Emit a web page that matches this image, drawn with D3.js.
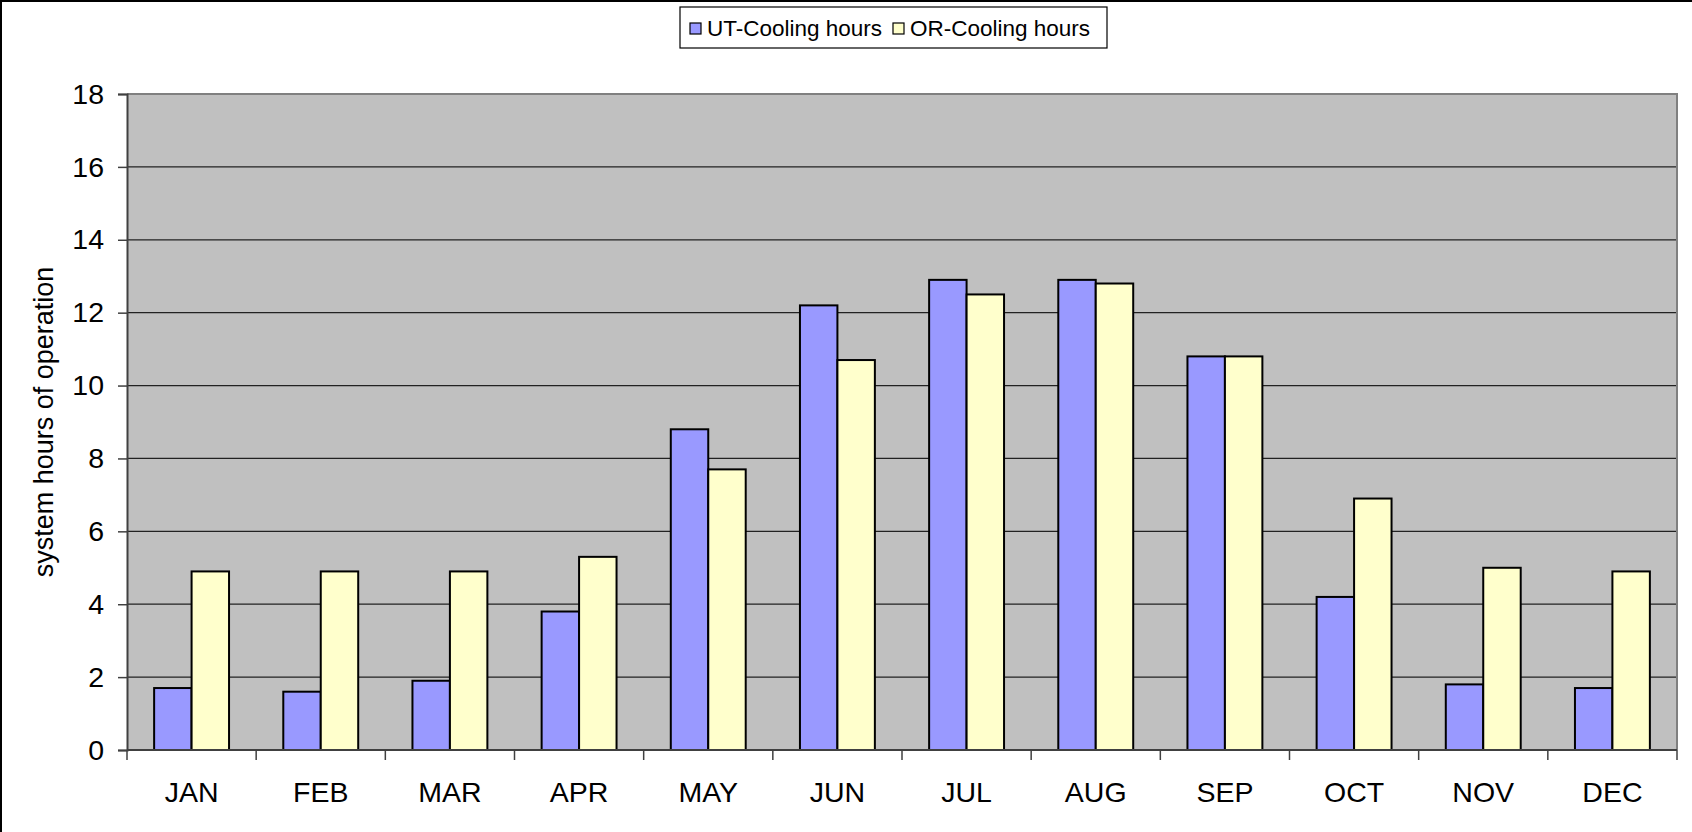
<!DOCTYPE html>
<html>
<head>
<meta charset="utf-8">
<script src="https://cdn.jsdelivr.net/npm/d3@7"></script>
<style>
  html, body { margin: 0; padding: 0; background: #fff; }
  svg { display: block; font-family: "Liberation Sans", Arial, sans-serif; }
</style>
</head>
<body>
<svg id="chart" width="1692" height="832"></svg>
<script>
const months = ["JAN","FEB","MAR","APR","MAY","JUN","JUL","AUG","SEP","OCT","NOV","DEC"];
const seriesNames = ["UT-Cooling hours", "OR-Cooling hours"];
const utCooling = [1.7, 1.6, 1.9, 3.8, 8.8, 12.2, 12.9, 12.9, 10.8, 4.2, 1.8, 1.7];
const orCooling = [4.9, 4.9, 4.9, 5.3, 7.7, 10.7, 12.5, 12.8, 10.8, 6.9, 5.0, 4.9];
const yTicks = [0, 2, 4, 6, 8, 10, 12, 14, 16, 18];
const seriesColors = ["#9999FF", "#FFFFCC"];
const yTitle = "system hours of operation";

const svg = d3.select("#chart");
const W = 1692, H = 832;
const plot = { left: 127, right: 1677, top: 94, bottom: 750 };

// outer border (right/bottom run off-canvas as in the reference)
svg.append("rect").attr("x", 1).attr("y", 1).attr("width", W + 10).attr("height", H + 10)
  .attr("fill", "#fff").attr("stroke", "#000").attr("stroke-width", 2);

const x0 = d3.scaleBand().domain(months).range([plot.left, plot.right])
  .paddingInner(0.42).paddingOuter(0.21);
const x1 = d3.scaleBand().domain(seriesNames).range([0, x0.bandwidth()]);
const xCat = d3.scaleBand().domain(months).range([plot.left, plot.right]);
const y = d3.scaleLinear().domain([0, 18]).range([plot.bottom, plot.top]);

// plot background
svg.append("rect").attr("x", plot.left).attr("y", plot.top)
  .attr("width", plot.right - plot.left).attr("height", plot.bottom - plot.top)
  .attr("fill", "#C0C0C0");

// gridlines
svg.append("g").selectAll("line").data(yTicks.filter(d => d > 0 && d < 18)).join("line")
  .attr("x1", plot.left).attr("x2", plot.right)
  .attr("y1", d => y(d)).attr("y2", d => y(d))
  .attr("stroke", "#222").attr("stroke-width", 1.2);

// plot border top & right
svg.append("path")
  .attr("d", `M${plot.left},${plot.top}H${plot.right}V${plot.bottom}`)
  .attr("fill", "none").attr("stroke", "#808080").attr("stroke-width", 2);

// bars
const data = months.map((m, i) => ({ m, vals: [utCooling[i], orCooling[i]] }));
const groups = svg.append("g").selectAll("g").data(data).join("g")
  .attr("transform", d => `translate(${x0(d.m)},0)`);
groups.selectAll("rect").data(d => d.vals.map((v, j) => ({ s: seriesNames[j], v, j }))).join("rect")
  .attr("x", d => x1(d.s)).attr("width", x1.bandwidth())
  .attr("y", d => y(d.v)).attr("height", d => y(0) - y(d.v))
  .attr("fill", d => seriesColors[d.j])
  .attr("stroke", "#000").attr("stroke-width", 2);

// y axis
const yAxis = d3.axisLeft(y).tickValues(yTicks).tickSize(9).tickPadding(14).tickFormat(d3.format("d"));
const gy = svg.append("g").attr("transform", `translate(${plot.left},0)`).call(yAxis);
gy.select(".domain").attr("stroke", "#404040").attr("stroke-width", 2);
gy.selectAll(".tick line").attr("stroke", "#404040").attr("stroke-width", 1.5);
gy.selectAll(".tick text").attr("font-size", 28.5).attr("fill", "#000")
  .attr("font-family", "'Liberation Sans', Arial, sans-serif");

// x axis: tick marks at category boundaries, labels at centers
const gx = svg.append("g").attr("transform", `translate(0,${plot.bottom})`);
gx.append("line").attr("x1", plot.left).attr("x2", plot.right).attr("y1", 0).attr("y2", 0)
  .attr("stroke", "#404040").attr("stroke-width", 2);
const boundaries = months.map(m => xCat(m)).concat([plot.right]);
gx.selectAll("line.tk").data(boundaries).join("line").attr("class", "tk")
  .attr("x1", d => d).attr("x2", d => d).attr("y1", 0).attr("y2", 10)
  .attr("stroke", "#404040").attr("stroke-width", 1.5);
gx.selectAll("text").data(months).join("text")
  .attr("x", d => xCat(d) + xCat.bandwidth() / 2).attr("y", 52)
  .attr("text-anchor", "middle").attr("font-size", 28.5).attr("fill", "#000")
  .text(d => d);

// y title
svg.append("text")
  .attr("transform", `translate(53,${(plot.top + plot.bottom) / 2}) rotate(-90)`)
  .attr("text-anchor", "middle").attr("font-size", 27).attr("fill", "#000")
  .text(yTitle);

// legend
const lg = svg.append("g");
lg.append("rect").attr("x", 680).attr("y", 7).attr("width", 427).attr("height", 41)
  .attr("fill", "#fff").attr("stroke", "#000").attr("stroke-width", 1.2);
const legendX = [690, 893];
seriesNames.forEach((s, i) => {
  lg.append("rect").attr("x", legendX[i]).attr("y", 23).attr("width", 11).attr("height", 11)
    .attr("fill", seriesColors[i]).attr("stroke", "#000").attr("stroke-width", 1.2);
  lg.append("text").attr("x", legendX[i] + 17).attr("y", 35.5)
    .attr("font-size", 22.5).attr("fill", "#000").text(s);
});
</script>
</body>
</html>
